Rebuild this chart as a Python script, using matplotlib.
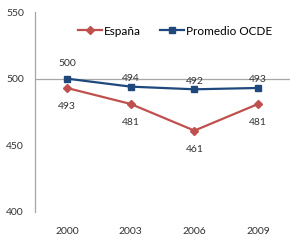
import matplotlib
matplotlib.use("Agg")
import matplotlib.pyplot as plt

years = ["2000", "2003", "2006", "2009"]
espana = [493, 481, 461, 481]
ocde = [500, 494, 492, 493]
yticks = [400, 450, 500, 550]

plt.rcParams['font.family'] = ['Lato', 'DejaVu Sans']

fig = plt.figure(figsize=(2.9, 2.4), dpi=100)
ax = fig.add_axes([0.121, 0.117, 0.879, 0.833])
x = [i + 0.5 for i in range(len(years))]

red = "#C0504D"
blue = "#1F497D"
ax.axhline(500, color="#A6A6A6", lw=0.9, zorder=1)
ax.plot(x, espana, color=red, marker="D", ms=4, lw=1.6, label="España", zorder=3)
ax.plot(x, ocde, color=blue, marker="s", ms=5, lw=1.6, label="Promedio OCDE", zorder=3)

for xi, v in zip(x, ocde):
    off = 8 if xi == 0.5 else 2.5
    ax.annotate(str(v), (xi, v), xytext=(0, off), textcoords="offset points",
                ha="center", va="bottom", fontsize=7.5, color="#333333")
for xi, v in zip(x, espana):
    ax.annotate(str(v), (xi, v), xytext=(0, -10), textcoords="offset points",
                ha="center", va="top", fontsize=7.5, color="#333333")

ax.set_xlim(0, 4)
ax.set_ylim(400, 550)
ax.set_yticks(yticks)
ax.set_yticklabels([str(t) for t in yticks], fontsize=7.5, color="#333333")
ax.set_xticks(x)
ax.set_xticklabels(years, fontsize=7.5, color="#333333")
ax.tick_params(axis="y", length=0, pad=8)
ax.tick_params(axis="x", length=0, pad=11)
for s in ["top", "right", "bottom"]:
    ax.spines[s].set_visible(False)
ax.spines["left"].set_color("#A6A6A6")
ax.spines["left"].set_linewidth(0.9)

ax.legend(loc="upper center", bbox_to_anchor=(0.55, 0.985), ncol=2, frameon=False,
          fontsize=8.5, handlelength=2.0, columnspacing=1.6, handletextpad=0.2)

fig.savefig("out.png", dpi=100)
